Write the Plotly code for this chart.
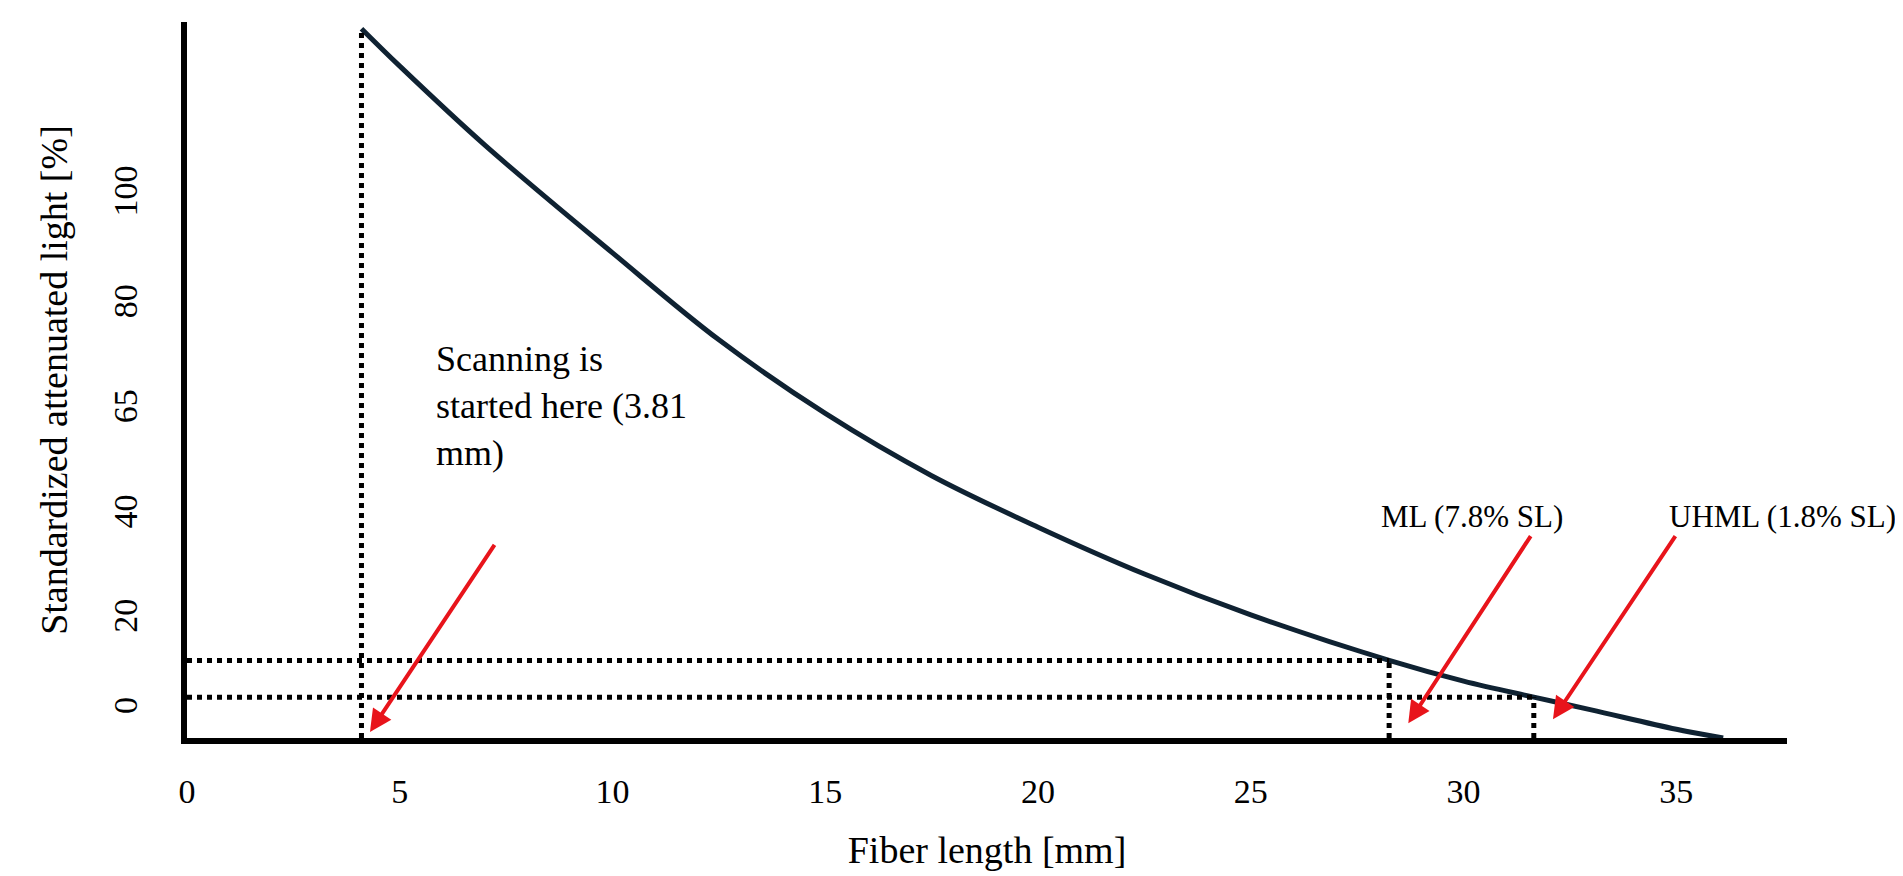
import plotly.graph_objects as go

# curve (fiber length mm, plotted height)
fiber_len = [4.1, 5, 7, 10, 12.5, 15, 17.5, 20, 22.5, 25, 28.25, 30, 31.65, 33, 35, 36.1]
light = [106, 100.4, 88.6, 72.5, 59.5, 48.5, 39.2, 31.5, 24.5, 18.4, 11.6, 8.5, 6.1, 4.2, 1.3, 0]

x_ticks = [0, 5, 10, 15, 20, 25, 30, 35]
y_tick_pos = [4.1, 17.5, 33.1, 48.8, 64.5, 81.0]
y_tick_text = ["0", "20", "40", "65", "80", "100"]

scan_start = 4.1
ml_x, ml_y = 28.25, 11.6
uhml_x, uhml_y = 31.65, 6.1

FONT = "Liberation Serif"
dot = dict(color="black", width=5, dash="dot")

fig = go.Figure()
fig.add_trace(go.Scatter(x=fiber_len, y=light, mode="lines", line=dict(color="#0f2232", width=5, shape="spline"),
                         cliponaxis=False, showlegend=False))

# dotted guide lines
for xs, ys in [([scan_start, scan_start], [0, 106]),
               ([0, ml_x], [ml_y, ml_y]), ([ml_x, ml_x], [0, ml_y]),
               ([0, uhml_x], [uhml_y, uhml_y]), ([uhml_x, uhml_x], [0, uhml_y])]:
    fig.add_trace(go.Scatter(x=xs, y=ys, mode="lines", line=dot, cliponaxis=False, showlegend=False))

arrows = [(4.3, 0.9, 7.25, 29.1), (28.7, 2.2, 31.6, 30.4), (32.1, 2.8, 35.0, 30.4)]
for hx, hy, tx, ty in arrows:
    fig.add_annotation(x=hx, y=hy, ax=tx, ay=ty, xref="x", yref="y", axref="x", ayref="y",
                       text="", showarrow=True, arrowhead=2, arrowsize=1.1, arrowwidth=4, arrowcolor="#e8141b")

fig.add_annotation(x=5.8, y=60, text="Scanning is<br>started here (3.81<br>mm)", showarrow=False,
                   xanchor="left", yanchor="top", align="left", font=dict(family=FONT, size=36, color="black"))
fig.add_annotation(x=30.2, y=33.1, text="ML (7.8% SL)", showarrow=False,
                   font=dict(family=FONT, size=31, color="black"))
fig.add_annotation(x=37.5, y=33.1, text="UHML (1.8% SL)", showarrow=False,
                   font=dict(family=FONT, size=31, color="black"))

fig.update_layout(
    width=1903, height=876, plot_bgcolor="white", paper_bgcolor="white",
    margin=dict(l=179, r=124, t=14, b=146),
    font=dict(family=FONT, size=34, color="black"),
    xaxis=dict(range=[0, 37.6], tickvals=x_ticks, showline=True, linecolor="black", linewidth=6,
               showgrid=False, zeroline=False, ticks="", ticklabelstandoff=18,
               title=dict(text="Fiber length [mm]", font=dict(size=38), standoff=30)),
    yaxis=dict(range=[0, 107], tickvals=y_tick_pos, ticktext=y_tick_text, tickangle=-90,
               showline=True, linecolor="black", linewidth=6, showgrid=False, zeroline=False, ticks="",
               ticklabelstandoff=30,
               title=dict(text="Standardized attenuated light [%]", font=dict(size=38), standoff=30)),
)

fig.write_html("out.html")
